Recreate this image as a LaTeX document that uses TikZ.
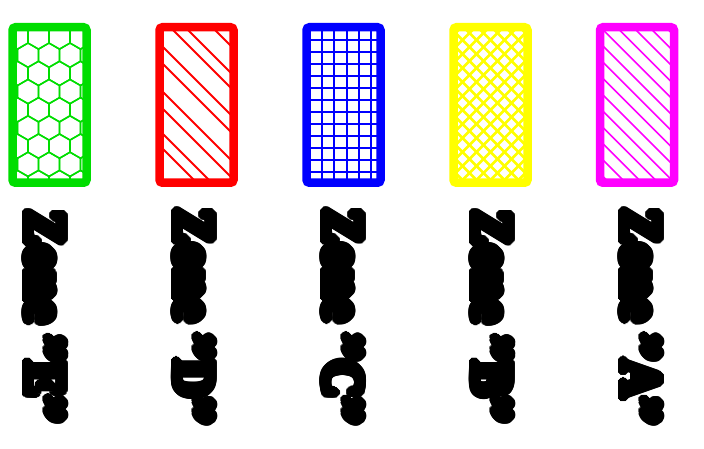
\documentclass[tikz,border=0pt]{standalone}
\usepackage{fontspec}
\setmainfont{Liberation Serif}
\usetikzlibrary{calc,backgrounds}
\definecolor{ZoneGreen}{RGB}{0,221,0}
\definecolor{ZoneMagenta}{RGB}{255,0,255}
\definecolor{ZoneYellow}{RGB}{255,255,0}
\tikzset{
  zonebox/.style={rectangle, draw=#1, line width=8.5pt, rounded corners=3pt,
    minimum width=74pt, minimum height=155.5pt, inner sep=0pt, outer sep=0pt},
  zonetext/.style={rotate=-90, font=\fontsize{51.8}{52}\selectfont\bfseries, inner sep=0pt},
}
% label with a thick outline made of shifted copies
\newcommand{\zonelabel}[3]{%
  \foreach \a in {0,15,...,345}
    \node[zonetext] at ($(#2,316.5)+(\a:4.5)$) {\scalebox{1}[1.08]{Zone "#3"}};
  \node[zonetext] (#1) at (#2,316.5) {\scalebox{1}[1.08]{Zone "#3"}};
}

\begin{document}
\begin{tikzpicture}[x=1pt,y=-1pt]
  \useasboundingbox (0,0) rectangle (704,449);
  \node[zonebox=ZoneGreen] (zE) at (49.5,105) {};
  \node[zonebox=red] (zD) at (196.5,105) {};
  \node[zonebox=blue] (zC) at (343.5,105) {};
  \node[zonebox=ZoneYellow] (zB) at (490.5,105) {};
  \node[zonebox=ZoneMagenta] (zA) at (637,105) {};
  \zonelabel{lE}{45}{E}
  \zonelabel{lD}{194}{D}
  \zonelabel{lC}{343}{C}
  \zonelabel{lB}{492}{B}
  \zonelabel{lA}{641}{A}
  % fillings
  \begin{scope}[on background layer]
    \begin{scope}
      \clip (zE.north west) rectangle (zE.south east);
      \foreach \r in {0,...,9}
        \foreach \k in {-1,...,4}
          \draw[ZoneGreen, line width=1.5pt, shift={({17.5+21*\k+10.5*mod(\r,2)},{37+18.19*\r})}]
            (30:12.12) -- (90:12.12) -- (150:12.12) -- (210:12.12) -- (270:12.12) -- (330:12.12) -- cycle;
    \end{scope}
    \begin{scope}
      \clip (zD.north west) rectangle (zD.south east);
      \foreach \c in {-201,-185,-158,-143,-116,-99,-71,-54,-29,-14}
        \draw[red, line width=2pt] ({150},{150+\c}) -- ({245},{245+\c});
    \end{scope}
    \begin{scope}
      \clip (zC.north west) rectangle (zC.south east);
      \foreach \k in {0,...,6}
        \draw[blue, line width=2pt] ({309.75+12.25*\k},20) -- ({309.75+12.25*\k},190);
      \foreach \k in {0,...,13}
        \draw[blue, line width=2pt] (300,{28+12*\k}) -- (390,{28+12*\k});
    \end{scope}
    \begin{scope}
      \clip (zB.north west) rectangle (zB.south east);
      \foreach \k in {-4,...,13} {
        \draw[ZoneYellow, line width=2.5pt] ({440},{440-450.5+14*\k}) -- ({540},{540-450.5+14*\k});
        \draw[ZoneYellow, line width=2.5pt] ({440},{-440+530.5+14*\k}) -- ({540},{-540+530.5+14*\k});
      }
    \end{scope}
    \begin{scope}
      \clip (zA.north west) rectangle (zA.south east);
      \foreach \k in {-6,...,9}
        \draw[ZoneMagenta, line width=1.6pt] ({590},{590-557+16.3*\k}) -- ({690},{690-557+16.3*\k});
    \end{scope}
  \end{scope}
\end{tikzpicture}
\end{document}
